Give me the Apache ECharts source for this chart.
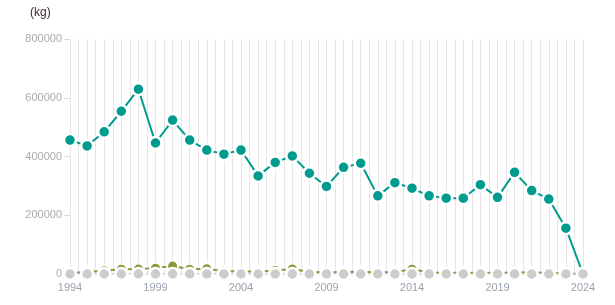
<!DOCTYPE html>
<html>
<head>
<meta charset="utf-8">
<script src="https://cdn.jsdelivr.net/npm/echarts@6/dist/echarts.min.js"></script>
<style>html,body{margin:0;padding:0;background:#fff}#c{width:615px;height:305px}</style>
</head>
<body>
<div id="c"></div>
<script>
const years = [1994,1995,1996,1997,1998,1999,2000,2001,2002,2003,2004,2005,2006,2007,2008,2009,2010,2011,2012,2013,2014,2015,2016,2017,2018,2019,2020,2021,2022,2023,2024];
const tealValues = [456000,436000,484000,554000,629000,446000,524000,456000,422000,408000,422000,334000,380000,402000,343000,298000,363000,377000,266000,311000,292000,266000,258000,258000,304000,261000,346000,284000,255000,156000,0];
const oliveValues = [3000,7000,11000,16000,17000,20000,27000,16000,18000,9000,9000,8000,12000,17000,7000,5000,7000,8000,5000,7000,16000,5000,4500,4500,3500,4500,5000,6000,3500,2000,0];
const greyValues = [0,0,0,0,0,0,0,0,0,0,0,0,0,0,0,0,0,0,0,0,0,0,0,0,0,0,0,0,0,0,0];
const xTicks = [1994,1999,2004,2009,2014,2019,2024];
const yTicks = [0,200000,400000,600000,800000];
const unitLabel = '(kg)';

const pairs = v => years.map((y,i)=>[y, v[i]]);
const chart = echarts.init(document.getElementById('c'), null, {renderer:'canvas'});
const font = 'Liberation Sans, Arial, sans-serif';
chart.setOption({
  animation:false,
  textStyle:{fontFamily:font},
  title:{text:unitLabel,left:25,top:2,textStyle:{fontSize:12,fontWeight:'normal',color:'#3a2f28',fontFamily:font}},
  grid:{left:70,right:32,top:39,bottom:31},
  xAxis:{
    type:'value',min:xTicks[0],max:xTicks[xTicks.length-1],interval:5,
    axisLine:{show:false},axisTick:{show:false},
    axisLabel:{color:'#9aa3b0',fontSize:11,margin:8,fontFamily:font,formatter:v=>String(v)},
    splitLine:{show:true,lineStyle:{color:'#e6e6e6',width:1}},
    minorTick:{show:false,splitNumber:10},
    minorSplitLine:{show:true,lineStyle:{color:'#e6e6e6',width:1}}
  },
  yAxis:{
    type:'value',min:yTicks[0],max:yTicks[yTicks.length-1],interval:200000,
    axisLine:{show:false},
    axisTick:{show:true,length:6,lineStyle:{color:'#d8d8d8'}},
    axisLabel:{color:'#aaaaaa',fontSize:11,margin:8,fontFamily:font,formatter:v=>String(v)},
    splitLine:{show:false}
  },
  series:[
    {type:'line',data:pairs(tealValues),z:2,symbol:'circle',symbolSize:12,
     lineStyle:{color:'#009b8f',width:2},
     itemStyle:{color:'#009b8f',borderColor:'#fff',borderWidth:2.5}},
    {type:'line',data:pairs(oliveValues),z:3,symbol:'circle',symbolSize:11,
     lineStyle:{color:'#8a9a3a',width:2},
     itemStyle:{color:'#8a9a3a',borderColor:'#fff',borderWidth:2}},
    {type:'line',data:pairs(greyValues),z:4,symbol:'circle',symbolSize:12,
     lineStyle:{color:'#cfcfcf',width:1.5},
     itemStyle:{color:'#cccccc',borderColor:'#fff',borderWidth:2.5}}
  ]
});
</script>
</body>
</html>
